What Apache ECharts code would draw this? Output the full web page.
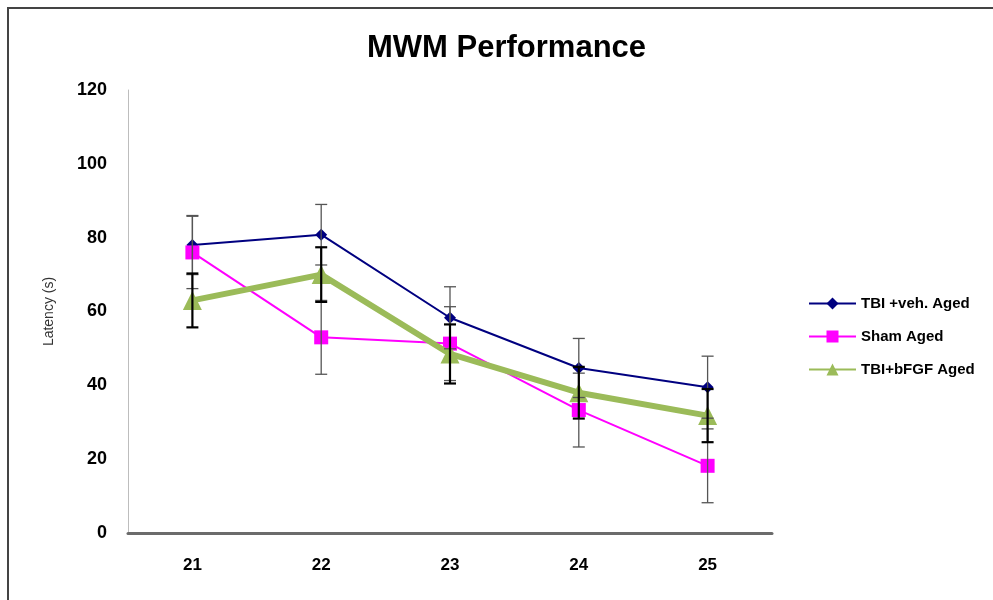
<!DOCTYPE html>
<html>
<head>
<meta charset="utf-8">
<script src="https://cdn.jsdelivr.net/npm/echarts@6/dist/echarts.min.js"></script>
<style>
  html, body { margin: 0; padding: 0; background: #fff; }
  #main { width: 993px; height: 600px; }
</style>
</head>
<body>
<div id="main"></div>
<script>
var dias = ['21', '22', '23', '24', '25'];
var tbiVeh = [78, 80.8, 58.3, 44.7, 39.5];
var tbiVehErr = [8, 8.2, 8.4, 8, 8.4];
var sham = [76, 53, 51.3, 33.3, 18.2];
var shamErr = [9.8, 10, 10, 10, 10];
var tbiFgf = [63, 70, 48.5, 38, 31.8];
var tbiFgfErr = [7.3, 7.4, 8, 7, 7.2];
var yTicks = [0, 20, 40, 60, 80, 100, 120];

var dom = document.getElementById('main');
var myChart = echarts.init(dom, null, { renderer: 'canvas' });

function errData(vals, errs) {
  return vals.map(function (v, i) { return [i, v - errs[i], v + errs[i]]; });
}

function errSeries(vals, errs, color, width) {
  return {
    type: 'custom',
    z: 5,
    silent: true,
    data: errData(vals, errs),
    renderItem: function (params, api) {
      var idx = api.value(0);
      var lo = api.coord([idx, api.value(1)]);
      var hi = api.coord([idx, api.value(2)]);
      var w = 6;
      var st = { stroke: color, lineWidth: width };
      return {
        type: 'group',
        children: [
          { type: 'line', shape: { x1: hi[0], y1: hi[1], x2: lo[0], y2: lo[1] }, style: st },
          { type: 'line', shape: { x1: hi[0] - w, y1: hi[1], x2: hi[0] + w, y2: hi[1] }, style: st },
          { type: 'line', shape: { x1: lo[0] - w, y1: lo[1], x2: lo[0] + w, y2: lo[1] }, style: st }
        ]
      };
    }
  };
}

var option = {
  animation: false,
  title: {
    text: 'MWM Performance',
    left: 362,
    top: 28,
    textStyle: {
      fontFamily: 'Liberation Sans',
      fontSize: 31,
      fontWeight: 'bold',
      color: '#000'
    }
  },
  legend: {
    data: ['TBI +veh. Aged', 'Sham Aged', 'TBI+bFGF Aged'],
    orient: 'vertical',
    left: 803,
    top: 291,
    itemWidth: 47,
    itemHeight: 15,
    itemGap: 18,
    textStyle: {
      fontFamily: 'Liberation Sans',
      fontSize: 15,
      fontWeight: 'bold',
      color: '#000'
    }
  },
  grid: {
    left: 128,
    right: 221,
    top: 90,
    bottom: 67
  },
  xAxis: {
    type: 'category',
    data: dias,
    boundaryGap: true,
    axisTick: { show: false },
    axisLine: { lineStyle: { color: '#6b6b6b', width: 3 } },
    axisLabel: {
      margin: 24,
      fontFamily: 'Liberation Sans',
      fontSize: 17,
      fontWeight: 'bold',
      color: '#000'
    }
  },
  yAxis: {
    type: 'value',
    min: yTicks[0],
    max: yTicks[yTicks.length - 1],
    interval: 20,
    name: 'Latency (s)',
    nameLocation: 'middle',
    nameGap: 72,
    nameTextStyle: {
      fontFamily: 'Liberation Sans',
      fontSize: 14,
      color: '#333'
    },
    splitLine: { show: false },
    axisTick: { show: false },
    axisLine: { show: true, lineStyle: { color: '#bdbdbd', width: 1 } },
    axisLabel: {
      margin: 21,
      fontFamily: 'Liberation Sans',
      fontSize: 18,
      fontWeight: 'bold',
      color: '#000'
    }
  },
  graphic: [
    { type: 'line', shape: { x1: 7, y1: 8, x2: 993, y2: 8 }, style: { stroke: '#444', lineWidth: 2 } },
    { type: 'line', shape: { x1: 8, y1: 7, x2: 8, y2: 600 }, style: { stroke: '#444', lineWidth: 2 } }
  ],
  series: [
    {
      name: 'TBI +veh. Aged',
      type: 'line',
      data: tbiVeh,
      color: '#000080',
      symbol: 'diamond',
      symbolSize: 12,
      lineStyle: { width: 2 },
      z: 2
    },
    {
      name: 'Sham Aged',
      type: 'line',
      data: sham,
      color: '#ff00ff',
      symbol: 'rect',
      symbolSize: 14,
      lineStyle: { width: 2 },
      z: 3
    },
    {
      name: 'TBI+bFGF Aged',
      type: 'line',
      data: tbiFgf,
      color: '#9bbb59',
      symbol: 'triangle',
      symbolSize: 19,
      lineStyle: { width: 6 },
      z: 4
    },
    errSeries(tbiVeh, tbiVehErr, '#555', 1.3),
    errSeries(sham, shamErr, '#555', 1.3),
    errSeries(tbiFgf, tbiFgfErr, '#000', 2.2)
  ]
};

myChart.setOption(option);

window.addEventListener('resize', function () {
  myChart.resize();
});
</script>
</body>
</html>
